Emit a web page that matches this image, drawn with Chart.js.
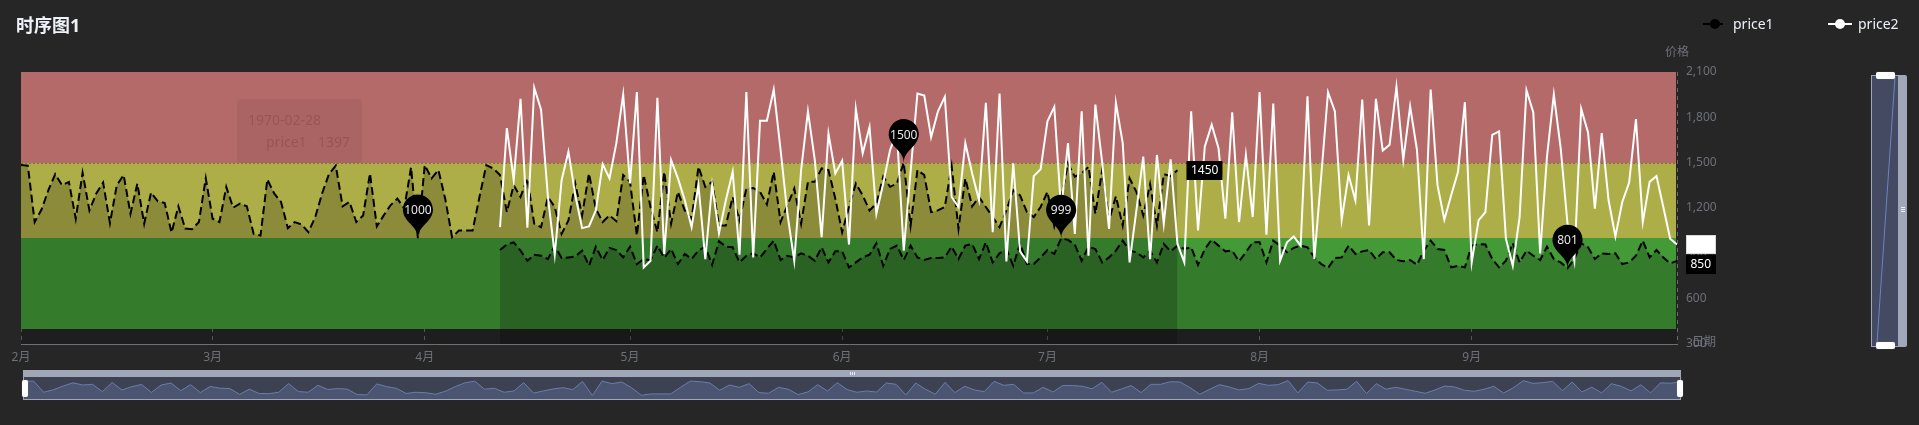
<!DOCTYPE html>
<html>
<head>
<meta charset="utf-8">
<title>时序图1</title>
<script src="https://cdn.jsdelivr.net/npm/chart.js@4.4.1/dist/chart.umd.min.js"></script>
<style>
  html, body { margin: 0; padding: 0; background: #262626; width: 1919px; height: 425px; overflow: hidden;
    font-family: "Noto Sans", "Noto Sans CJK SC", sans-serif; }
  #chart { position: absolute; left: 0; top: 0; }
  #title { position: absolute; left: 16px; top: 13px; line-height: 24px; font-size: 18px; font-weight: bold; color: #eef1fa; }
  .leg { position: absolute; top: 14px; height: 20px; line-height: 20px; font-size: 14px; color: #eef1fa; }
  .leg svg { position: absolute; left: 0; top: 5px; }
  .leg span { position: absolute; white-space: nowrap; }
  #ghost { position: absolute; left: 237px; top: 99px; width: 125px; height: 64px; border-radius: 4px;
    background: rgba(0, 0, 0, 0.05); color: rgba(120, 50, 50, 0.35); font-size: 14px; }
  #ghost div { position: absolute; white-space: nowrap; line-height: 18px; }
  .bar { position: absolute; background: #a0a7b8; }
  .body { position: absolute; box-sizing: border-box; border: 1px solid #a0a7b8; background: #3c4252; }
  .handle { position: absolute; background: #fff; border-radius: 2px; box-shadow: 0 0 1px #888; }
  .grip { position: absolute; background: #eef; }
</style>
</head>
<body>
<canvas id="chart" width="1919" height="425"></canvas>

<div id="title">时序图1</div>

<div class="leg" style="left:1703px">
  <svg width="24" height="10"><line x1="0" y1="5" x2="24" y2="5" stroke="#000" stroke-width="2" stroke-dasharray="8 4"/><circle cx="12" cy="5" r="5" fill="#000"/></svg>
  <span style="left:30px">price1</span>
</div>
<div class="leg" style="left:1828px">
  <svg width="24" height="10"><line x1="0" y1="5" x2="24" y2="5" stroke="#fff" stroke-width="2"/><circle cx="12" cy="5" r="5" fill="#fff"/></svg>
  <span style="left:30px">price2</span>
</div>

<div id="ghost">
  <div id="ghostDate" style="left:11px; top:12px"></div>
  <div id="ghostName" style="left:29px; top:34px"></div>
  <div id="ghostValue" style="left:81px; top:34px"></div>
</div>

<!-- bottom slider -->
<div class="bar" style="left:23px; top:370px; width:1658px; height:6px"></div>
<div class="grip" style="left:850px; top:372px; width:1px; height:3px"></div>
<div class="grip" style="left:852px; top:372px; width:1px; height:3px"></div>
<div class="grip" style="left:854px; top:372px; width:1px; height:3px"></div>
<div class="body" style="left:23px; top:376px; width:1658px; height:24px">
  <canvas id="shadow" width="1656" height="22" style="position:absolute; left:0; top:0"></canvas>
</div>
<div class="handle" style="left:22px; top:380px; width:6px; height:17px"></div>
<div class="handle" style="left:1677px; top:380px; width:6px; height:17px"></div>

<!-- right slider -->
<div class="body" style="left:1871px; top:75px; width:28px; height:272px; background:#434a61"></div>
<div class="bar" style="left:1899px; top:75px; width:8px; height:272px; border-radius:0 2px 2px 0"></div>
<div class="grip" style="left:1901px; top:207px; width:4px; height:1px"></div>
<div class="grip" style="left:1901px; top:209px; width:4px; height:1px"></div>
<div class="grip" style="left:1901px; top:211px; width:4px; height:1px"></div>
<svg style="position:absolute; left:1871px; top:75px" width="28" height="272">
  <line x1="6" y1="268" x2="24" y2="2" stroke="#6d84c4" stroke-width="1"/>
</svg>
<div class="handle" style="left:1876px; top:72px; width:19px; height:7px"></div>
<div class="handle" style="left:1876px; top:342px; width:19px; height:7px"></div>

<script>
// Data ------------------------------------------------------------------------
const firstDay = '1970-02-01';
const monthStarts = ['1970-02-01', '1970-03-01', '1970-04-01', '1970-05-01', '1970-06-01',
  '1970-07-01', '1970-08-01', '1970-09-01', '1970-10-01'];
const monthLabels = ['2月', '3月', '4月', '5月', '6月', '7月', '8月', '9月', ''];

const yMin = 300;
const yMax = 2100;
const yStep = 300;

// price bands (top to bottom)
const bandEdges = [2100, 1500, 1000, 400];
const bandColors = ['#b56a6a', '#aeae49', '#439a37'];

// price1, first run
const price1Start = '1970-02-01';
const price1Values = [
  1484, 1480, 1107, 1190, 1318, 1424, 1351, 1373, 1129, 1433,
  1184, 1296, 1369, 1100, 1351, 1418, 1162, 1362, 1096, 1302,
  1244, 1233, 1036, 1211, 1064, 1060, 1107, 1397, 1129, 1107,
  1340, 1202, 1229, 1211, 1029, 1018, 1389, 1296, 1240, 1067,
  1107, 1091, 1040, 1140, 1296, 1424, 1480, 1211, 1240, 1107,
  1151, 1429, 1078, 1151, 1218, 1262, 1196, 1469, 1000, 1484,
  1396, 1451, 1260, 1007, 1051, 1051, 1051, 1273, 1484, 1462,
  1418, 1173, 1351, 1273, 1396, 1096, 1073, 1273, 1207, 1029,
  1118, 1362, 1151, 1429, 1196, 1107, 1151, 1113, 1418, 1373,
  1018, 1418, 1207, 1040, 1440, 1096, 1307, 1184, 1129, 1473,
  1340, 1373, 1084, 1084, 1273, 1118, 1329, 1333, 1307, 1224,
  1440, 1107, 1218, 1329, 1096, 1373, 1373, 1462, 1451, 1262,
  1040, 1207, 1362, 1284, 1184, 1229, 1407, 1340, 1362, 1500,
  1084, 1451, 1418, 1173, 1184, 1207, 1478, 1062, 1396, 1211,
  1273, 1207, 1140, 1073, 1184, 1318, 1284, 1173, 1140, 1207,
  1307, 1080, 1260, 1496, 1407, 1429, 1473, 1162, 1451, 1118,
  1278, 1084, 1396, 1307, 1151, 1358, 1084, 1424, 1411, 1450
];

// price1, second run
const price1bStart = '1970-04-12';
const price1bValues = [
  922, 958, 973, 918, 851, 891, 884, 862, 951, 869,
  873, 878, 918, 818, 944, 856, 936, 922, 873, 944,
  829, 862, 856, 951, 869, 929, 829, 896, 862, 918,
  944, 824, 980, 944, 940, 840, 884, 900, 873, 929,
  984, 856, 884, 873, 900, 884, 851, 940, 840, 913,
  913, 807, 840, 873, 891, 967, 818, 929, 951, 856,
  951, 873, 856, 869, 869, 873, 944, 862, 951, 962,
  862, 973, 840, 900, 929, 818, 967, 829, 829, 873,
  922, 896, 999, 989, 958, 851, 944, 929, 840, 873,
  918, 984, 918, 907, 873, 918, 840, 962, 913, 951,
  929, 940, 824, 929, 989, 951, 913, 918, 847, 907,
  973, 973, 840, 984, 951, 907, 936, 951, 940, 873,
  829, 802, 869, 873, 951, 896, 913, 922, 862, 907,
  907, 856, 847, 856, 824, 918, 984, 929, 922, 807,
  818, 807, 951, 962, 958, 862, 807, 851, 967, 840,
  918, 884, 856, 944, 862, 840, 801, 862, 967, 940,
  862, 900, 896, 900, 829, 840, 884, 984, 873, 922,
  873, 833, 850
];

// price2
const price2Start = '1970-04-12';
const price2Values = [
  1073, 1729, 1384, 1922, 1069, 1996, 1851, 1273, 891, 1384,
  1573, 1284, 1067, 1078, 1184, 1491, 1396, 1629, 1951, 1362,
  1967, 807, 851, 1929, 896, 1518, 1396, 1251, 1073, 1351,
  862, 1351, 1033, 1251, 1440, 891, 1967, 873, 1778, 1778,
  1984, 1584, 1162, 850, 1450, 1840, 1518, 1007, 1691, 1429,
  1513, 958, 1856, 1562, 1736, 1162, 1362, 1584, 1700, 918,
  1440, 1958, 1944, 1669, 1840, 1936, 1273, 1207, 1629, 1429,
  1251, 1896, 1040, 1958, 847, 1496, 913, 847, 1411, 1456,
  1773, 1869, 1184, 1629, 1029, 1840, 884, 1884, 1500, 1062,
  1896, 1629, 840, 1184, 1540, 862, 1551, 1096, 1522, 962,
  840, 1840, 1051, 1607, 1751, 1596, 1129, 1833, 1107, 1551,
  1140, 1967, 1024, 1891, 851, 973, 1011, 951, 1940, 862,
  1407, 1967, 1840, 1122, 1418, 1251, 1918, 1084, 1922, 1580,
  1618, 2002, 1518, 1873, 1584, 862, 1984, 1351, 1122, 1284,
  1440, 1900, 840, 1118, 1173, 1684, 1707, 996, 818, 1140,
  1980, 1833, 900, 1540, 1951, 1596, 1096, 851, 1856, 1700,
  1196, 1696, 1251, 1011, 1240, 1367, 1789, 1107, 1373, 1411,
  1207, 996, 958
];

// hovered point shown by the fading tooltip
const ghostDay = '1970-02-28';

// Helpers ---------------------------------------------------------------------
const fontFamily = '"Noto Sans", "Noto Sans CJK SC", sans-serif';
const labelColor = '#6e7079';

function dayIndex(dateStr) {
  return Math.round((Date.parse(dateStr) - Date.parse(firstDay)) / 86400000);
}

function toPoints(start, values) {
  const s = dayIndex(start);
  return values.map((v, i) => ({ x: s + i, y: v }));
}

function indexOfMax(arr) {
  return arr.indexOf(Math.max(...arr));
}

function indexOfMin(arr) {
  return arr.indexOf(Math.min(...arr));
}

// ECharts style pin, tip at (x, y)
function drawPin(ctx, x, y, size, text) {
  const w = size / 5 * 3;
  const h = Math.max(w, size);
  const r = w / 2;
  const dy = r * r / (h - r);
  const cy = y - h + r + dy;
  const angle = Math.asin(dy / r);
  const dx = Math.cos(angle) * r;
  const tanX = Math.sin(angle);
  const tanY = Math.cos(angle);
  const cpLen = r * 0.6;
  const cpLen2 = r * 0.7;
  ctx.beginPath();
  ctx.moveTo(x - dx, cy + dy);
  ctx.arc(x, cy, r, Math.PI - angle, Math.PI * 2 + angle);
  ctx.bezierCurveTo(x + dx - tanX * cpLen, cy + dy + tanY * cpLen, x, y - cpLen2, x, y);
  ctx.bezierCurveTo(x, y - cpLen2, x - dx + tanX * cpLen, cy + dy + tanY * cpLen, x - dx, cy + dy);
  ctx.closePath();
  ctx.fillStyle = '#000';
  ctx.fill();
  ctx.font = '12px ' + fontFamily;
  ctx.fillStyle = '#e6e6e6';
  ctx.textAlign = 'center';
  ctx.textBaseline = 'middle';
  ctx.fillText(text, x, cy + 1);
}

// end label box, returns [top, bottom]
function drawTag(ctx, text, x, top, bg, fg) {
  ctx.font = '12px ' + fontFamily;
  const w = Math.round(ctx.measureText(text).width + 9);
  const h = 19;
  ctx.fillStyle = bg;
  ctx.fillRect(x, top, w, h);
  if (bg === '#fff') {
    ctx.strokeStyle = 'rgba(0,0,0,0.15)';
    ctx.lineWidth = 1;
    ctx.strokeRect(x + 0.5, top + 0.5, w - 1, h - 1);
  }
  ctx.fillStyle = fg;
  ctx.textAlign = 'left';
  ctx.textBaseline = 'middle';
  ctx.fillText(text, x + 4.5, top + h / 2 + 0.5);
  return [top, top + h];
}

// Bands, markers, labels ------------------------------------------------------
const decorPlugin = {
  id: 'decor',
  beforeDatasetsDraw(chart) {
    const { ctx, chartArea: a, scales: { y } } = chart;
    ctx.save();
    for (let i = 0; i < bandColors.length; i++) {
      const top = Math.round(y.getPixelForValue(bandEdges[i]));
      const bot = Math.round(y.getPixelForValue(bandEdges[i + 1]));
      ctx.fillStyle = bandColors[i];
      ctx.fillRect(a.left, top, a.right - a.left - 1, bot - top);
    }
    // dotted split line between red and yellow band
    const yl = Math.round(y.getPixelForValue(bandEdges[1])) + 0.5;
    ctx.strokeStyle = 'rgba(90,60,60,0.55)';
    ctx.lineWidth = 1;
    ctx.setLineDash([2, 2]);
    ctx.beginPath();
    ctx.moveTo(a.left, yl);
    ctx.lineTo(a.right, yl);
    ctx.stroke();
    ctx.restore();
  },
  afterDatasetsDraw(chart) {
    const { ctx } = chart;
    ctx.save();

    // min / max pins on both price1 runs
    const pins = [
      [1, price1Values, indexOfMax(price1Values)],
      [1, price1Values, indexOfMin(price1Values)],
      [2, price1bValues, indexOfMax(price1bValues)],
      [2, price1bValues, indexOfMin(price1bValues)]
    ];
    pins.forEach(([ds, values, idx]) => {
      const pt = chart.getDatasetMeta(ds).data[idx];
      drawPin(ctx, pt.x, pt.y, 50, String(values[idx]));
    });

    // end labels
    const end1 = chart.getDatasetMeta(1).data[price1Values.length - 1];
    drawTag(ctx, String(price1Values[price1Values.length - 1]), end1.x + 9, Math.round(end1.y - 9.5), '#000', '#fff');

    const endW = chart.getDatasetMeta(0).data[price2Values.length - 1];
    const boxW = drawTag(ctx, String(price2Values[price2Values.length - 1]), endW.x + 9, Math.round(endW.y - 9.5), '#fff', '#fff');

    const endB = chart.getDatasetMeta(2).data[price1bValues.length - 1];
    let topB = Math.round(endB.y - 9.5);
    if (topB < boxW[1] + 1 && topB + 19 > boxW[0]) topB = boxW[1] + 1;
    drawTag(ctx, String(price1bValues[price1bValues.length - 1]), endB.x + 9, topB, '#000', '#fff');

    ctx.restore();
  },
  afterDraw(chart) {
    const { ctx, chartArea: a } = chart;
    ctx.save();
    ctx.font = '12px ' + fontFamily;
    ctx.fillStyle = labelColor;
    // y axis name
    ctx.textAlign = 'center';
    ctx.textBaseline = 'bottom';
    ctx.fillText('价格', a.right, a.top - 13);
    // x axis name
    ctx.textAlign = 'left';
    ctx.textBaseline = 'middle';
    ctx.fillText('日期', a.right + 15, a.bottom - 1);
    ctx.restore();
  }
};

// Main chart ------------------------------------------------------------------
Chart.defaults.font.family = fontFamily;

const monthDays = monthStarts.map(dayIndex);

new Chart(document.getElementById('chart'), {
  type: 'line',
  data: {
    datasets: [
      {
        label: 'price2',
        data: toPoints(price2Start, price2Values),
        borderColor: '#fff',
        borderWidth: 2,
        pointRadius: 0,
        fill: false,
        tension: 0,
        order: 0
      },
      {
        label: 'price1',
        data: toPoints(price1Start, price1Values),
        borderColor: '#000',
        borderWidth: 2,
        borderDash: [8, 4],
        backgroundColor: 'rgba(0,0,0,0.2)',
        pointRadius: 0,
        fill: 'origin',
        tension: 0,
        order: 1
      },
      {
        label: 'price1',
        data: toPoints(price1bStart, price1bValues),
        borderColor: '#000',
        borderWidth: 2,
        borderDash: [8, 4],
        backgroundColor: 'rgba(0,0,0,0.2)',
        pointRadius: 0,
        fill: 'origin',
        tension: 0,
        order: 2
      }
    ]
  },
  options: {
    responsive: false,
    animation: false,
    events: [],
    layout: { padding: { left: 21, top: 72, right: 0, bottom: 0 } },
    plugins: {
      legend: { display: false },
      tooltip: { enabled: false }
    },
    scales: {
      x: {
        type: 'linear',
        min: monthDays[0],
        max: monthDays[monthDays.length - 1],
        afterBuildTicks: (scale) => {
          scale.ticks = monthDays.map(v => ({ value: v }));
        },
        afterFit: (scale) => { scale.height = 81; },
        ticks: {
          autoSkip: false,
          maxRotation: 0,
          color: labelColor,
          font: { size: 12 },
          padding: 6,
          callback: (value) => monthLabels[monthDays.indexOf(value)]
        },
        grid: { color: '#6a6a6a', lineWidth: 1, drawTicks: false },
        border: { color: '#6e7079', width: 1, dash: [4, 4] }
      },
      y: {
        position: 'right',
        min: yMin,
        max: yMax,
        afterFit: (scale) => { scale.width = 242; },
        ticks: {
          stepSize: yStep,
          color: labelColor,
          font: { size: 12 },
          padding: 9
        },
        grid: { display: false, drawTicks: false },
        border: { display: false }
      }
    }
  },
  plugins: [decorPlugin]
});

// Slider data shadow ----------------------------------------------------------
new Chart(document.getElementById('shadow'), {
  type: 'line',
  data: {
    labels: price1Values.map((v, i) => i),
    datasets: [{
      data: price1Values,
      borderColor: '#6c7cab',
      borderWidth: 1,
      backgroundColor: '#4b5572',
      pointRadius: 0,
      fill: 'origin',
      tension: 0
    }]
  },
  options: {
    responsive: false,
    animation: false,
    events: [],
    layout: { padding: 0 },
    plugins: { legend: { display: false }, tooltip: { enabled: false } },
    scales: {
      x: { type: 'linear', display: false, min: 0, max: price1Values.length - 1 },
      y: { display: false, min: 880, max: 1620 }
    }
  }
});

// Fading tooltip --------------------------------------------------------------
document.getElementById('ghostDate').textContent = ghostDay;
document.getElementById('ghostName').textContent = 'price1';
document.getElementById('ghostValue').textContent = price1Values[dayIndex(ghostDay) - dayIndex(price1Start)];
</script>
</body>
</html>
